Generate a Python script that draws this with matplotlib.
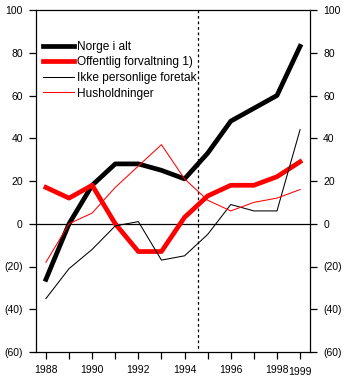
import matplotlib
matplotlib.use("Agg")
from matplotlib import pyplot as plt
from matplotlib.transforms import ScaledTranslation
import numpy as np

years = np.arange(1988, 2000)
norge = [-26, 0, 18, 28, 28, 25, 21, 33, 48, 54, 60, 83]
offentlig = [17, 12, 18, 0, -13, -13, 3, 13, 18, 18, 22, 29]
ikke_pers = [-35, -21, -12, -1, 1, -17, -15, -5, 9, 6, 6, 44]
hushold = [-18, 0, 5, 17, 27, 37, 21, 11, 6, 10, 12, 16]
labels = ["Norge i alt", "Offentlig forvaltning 1)", "Ikke personlige foretak", "Husholdninger"]
yticks = [-60, -40, -20, 0, 20, 40, 60, 80, 100]
split_year = 1994.6

plt.rcParams['font.family'] = ['Liberation Sans', 'DejaVu Sans']

fig = plt.figure(figsize=(3.52, 3.84), dpi=100)
ax = fig.add_axes([36/352, 32/384, 274/352, 342/384])

ax.plot(years, norge, color='black', lw=3.4, label=labels[0], solid_joinstyle='round')
ax.plot(years, offentlig, color='red', lw=3.4, label=labels[1], solid_joinstyle='round')
ax.plot(years, ikke_pers, color='black', lw=0.75, label=labels[2])
ax.plot(years, hushold, color='red', lw=0.75, label=labels[3])

ax.axhline(0, color='black', lw=0.9, zorder=1)
ax.plot([split_year, split_year], [100, -59], color='black', lw=0.9, ls=(0, (2.2, 2.2)), zorder=1)

ax.set_xlim(1987.57, 1999.43)
ax.set_ylim(-60, 100)
ax.set_yticks(yticks)
ax.set_yticklabels(["(%d)" % -v if v < 0 else "%d" % v for v in yticks])
ax.set_xticks(years)
ax.set_xticklabels([str(y) if (y % 2 == 0 or y == 1999) else "" for y in years])
ax.tick_params(axis='both', direction='out', length=5, width=0.9, labelsize=7.5, pad=4.5)
ax.tick_params(axis='y', right=True, labelright=True)
for lab in ax.get_xticklabels():
    if lab.get_text() == "1999":
        lab.set_transform(lab.get_transform() + ScaledTranslation(0, -2/100, fig.dpi_scale_trans))
for s in ax.spines.values():
    s.set_linewidth(0.9)

ax.legend(loc='upper left', bbox_to_anchor=(0.026, 0.91), frameon=False, fontsize=8.6,
          handlelength=2.6, handletextpad=0.2, labelspacing=0.3, borderpad=0, borderaxespad=0)

fig.savefig("out.png", dpi=100)
